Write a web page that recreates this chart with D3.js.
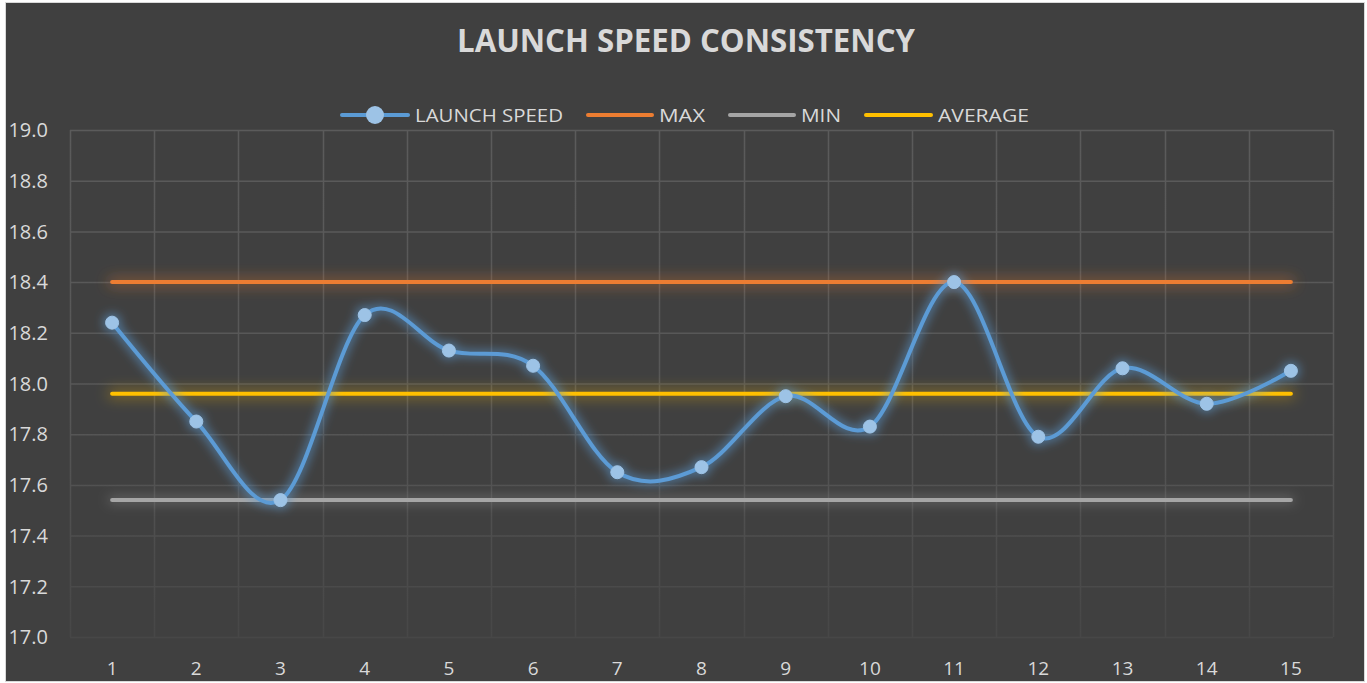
<!DOCTYPE html>
<html>
<head>
<meta charset="utf-8">
<script src="https://cdn.jsdelivr.net/npm/d3@7"></script>
<style>
  html, body { margin: 0; padding: 0; background: #ffffff; }
  svg { display: block; }
  text { font-family: "Open Sans", "Noto Sans", sans-serif; }
</style>
</head>
<body>
<div id="chart"></div>
<script>
// data
var categories = ["1", "2", "3", "4", "5", "6", "7", "8", "9", "10", "11", "12", "13", "14", "15"];
var launchSpeed = [18.24, 17.85, 17.54, 18.27, 18.13, 18.07, 17.65, 17.67, 17.95, 17.83, 18.40, 17.79, 18.06, 17.92, 18.05];
var maxValues = [18.40, 18.40, 18.40, 18.40, 18.40, 18.40, 18.40, 18.40, 18.40, 18.40, 18.40, 18.40, 18.40, 18.40, 18.40];
var minValues = [17.54, 17.54, 17.54, 17.54, 17.54, 17.54, 17.54, 17.54, 17.54, 17.54, 17.54, 17.54, 17.54, 17.54, 17.54];
var avgValues = [17.96, 17.96, 17.96, 17.96, 17.96, 17.96, 17.96, 17.96, 17.96, 17.96, 17.96, 17.96, 17.96, 17.96, 17.96];
var yTicks = [17.0, 17.2, 17.4, 17.6, 17.8, 18.0, 18.2, 18.4, 18.6, 18.8, 19.0];
var legendNames = ["LAUNCH SPEED", "MAX", "MIN", "AVERAGE"];

var width = 1367, height = 683;
var plot = { left: 70, right: 1333, top: 130, bottom: 637 };

var svg = d3.select("#chart").append("svg")
	.attr("width", width)
	.attr("height", height);

var defs = svg.append("defs");

// soft glow like the excel effect (user space so flat lines keep it)
function glow(id, color, dev, op) {
	var f = defs.append("filter").attr("id", id)
		.attr("filterUnits", "userSpaceOnUse")
		.attr("x", 0).attr("y", 0).attr("width", width).attr("height", height);
	f.append("feMorphology").attr("in", "SourceAlpha").attr("operator", "dilate").attr("radius", 2).attr("result", "fat");
	f.append("feGaussianBlur").attr("in", "fat").attr("stdDeviation", dev).attr("result", "blur");
	f.append("feFlood").attr("flood-color", color).attr("flood-opacity", op);
	f.append("feComposite").attr("in2", "blur").attr("operator", "in").attr("result", "glowc");
	var m = f.append("feMerge");
	m.append("feMergeNode").attr("in", "glowc");
	m.append("feMergeNode").attr("in", "SourceGraphic");
}
glow("glowBlue", "#5b9bd5", 5, 0.55);
glow("glowOrange", "#ed7d31", 7, 0.45);
glow("glowGray", "#a5a5a5", 6, 0.35);
glow("glowYellow", "#ffc000", 7, 0.42);

// grid fades out towards the bottom
var grad = defs.append("linearGradient").attr("id", "gridFade")
	.attr("gradientUnits", "userSpaceOnUse")
	.attr("x1", 0).attr("y1", plot.top).attr("x2", 0).attr("y2", plot.bottom);
grad.append("stop").attr("offset", "0%").attr("stop-color", "#5b5b5b");
grad.append("stop").attr("offset", "55%").attr("stop-color", "#575757");
grad.append("stop").attr("offset", "100%").attr("stop-color", "#474747");

// background + border
svg.append("rect")
	.attr("x", 5.5).attr("y", 2.5)
	.attr("width", 1359).attr("height", 679)
	.attr("fill", "#404040")
	.attr("stroke", "#d9d9d9")
	.attr("stroke-width", 1);

var x = d3.scaleBand()
	.domain(categories)
	.range([plot.left, plot.right]);

var y = d3.scaleLinear()
	.domain([17.0, 19.0])
	.range([plot.bottom, plot.top]);

function cx(i) { return x(categories[i]) + x.bandwidth() / 2; }

// horizontal grid
svg.append("g").selectAll("line")
	.data(yTicks)
	.enter().append("line")
	.attr("x1", plot.left).attr("x2", plot.right)
	.attr("y1", function(d) { return y(d) + 0.5; })
	.attr("y2", function(d) { return y(d) + 0.5; })
	.attr("stroke", "url(#gridFade)")
	.attr("stroke-width", 1.5);

// vertical grid at band edges
var edges = categories.map(function(c) { return x(c); }).concat([plot.right]);
svg.append("g").selectAll("line")
	.data(edges)
	.enter().append("line")
	.attr("x1", function(d) { return Math.round(d) + 0.5; })
	.attr("x2", function(d) { return Math.round(d) + 0.5; })
	.attr("y1", plot.top).attr("y2", plot.bottom)
	.attr("stroke", "url(#gridFade)")
	.attr("stroke-width", 1.5);

// y labels
svg.append("g").selectAll("text")
	.data(yTicks)
	.enter().append("text")
	.attr("x", 48)
	.attr("y", function(d) { return y(d); })
	.attr("dy", "0.36em")
	.attr("text-anchor", "end")
	.attr("font-size", 20)
	.attr("fill", "#d9d9d9")
	.text(function(d) { return d.toFixed(1); });

// x labels
svg.append("g").selectAll("text")
	.data(categories)
	.enter().append("text")
	.attr("x", function(d, i) { return cx(i); })
	.attr("y", 675)
	.attr("text-anchor", "middle")
	.attr("font-size", 19)
	.attr("fill", "#d9d9d9")
	.text(function(d) { return d; });

// reference lines
function flatLine(vals, color, filt) {
	var line = d3.line()
		.x(function(d, i) { return cx(i); })
		.y(function(d) { return y(d); });
	svg.append("path")
		.datum(vals)
		.attr("d", line)
		.attr("fill", "none")
		.attr("stroke", color)
		.attr("stroke-width", 4)
		.attr("stroke-linecap", "round")
		.attr("filter", "url(#" + filt + ")");
}
flatLine(minValues, "#a5a5a5", "glowGray");
flatLine(maxValues, "#ed7d31", "glowOrange");
flatLine(avgValues, "#ffc000", "glowYellow");

// launch speed, smoothed
var smooth = d3.line()
	.x(function(d, i) { return cx(i); })
	.y(function(d) { return y(d); })
	.curve(d3.curveCatmullRom.alpha(0));

var speedG = svg.append("g").attr("filter", "url(#glowBlue)");
speedG.append("path")
	.datum(launchSpeed)
	.attr("d", smooth)
	.attr("fill", "none")
	.attr("stroke", "#5b9bd5")
	.attr("stroke-width", 4)
	.attr("stroke-linecap", "round");

speedG.selectAll("circle")
	.data(launchSpeed)
	.enter().append("circle")
	.attr("cx", function(d, i) { return cx(i); })
	.attr("cy", function(d) { return y(d); })
	.attr("r", 6.5)
	.attr("fill", "#9dc3e6")
	.attr("stroke", "#9dc3e6")
	.attr("stroke-width", 1);

// title
svg.append("text")
	.attr("x", 686)
	.attr("y", 52)
	.attr("text-anchor", "middle")
	.attr("font-size", 32)
	.attr("font-weight", "bold")
	.attr("fill", "#d9d9d9")
	.attr("textLength", 458)
	.attr("lengthAdjust", "spacingAndGlyphs")
	.text("LAUNCH SPEED CONSISTENCY");

// legend
var legendItems = [
	{ name: legendNames[0], color: "#5b9bd5", x1: 342, x2: 408, tx: 415, tw: 148, marker: true },
	{ name: legendNames[1], color: "#ed7d31", x1: 588, x2: 652, tx: 659, tw: 46 },
	{ name: legendNames[2], color: "#a5a5a5", x1: 730, x2: 794, tx: 801, tw: 40 },
	{ name: legendNames[3], color: "#ffc000", x1: 866, x2: 931, tx: 938, tw: 91 }
];
var legend = svg.append("g");
legendItems.forEach(function(d) {
	legend.append("line")
		.attr("x1", d.x1).attr("x2", d.x2)
		.attr("y1", 115).attr("y2", 115)
		.attr("stroke", d.color)
		.attr("stroke-width", 4)
		.attr("stroke-linecap", "round");
	if (d.marker) {
		legend.append("circle")
			.attr("cx", (d.x1 + d.x2) / 2).attr("cy", 115)
			.attr("r", 9)
			.attr("fill", "#9dc3e6");
	}
	legend.append("text")
		.attr("x", d.tx)
		.attr("y", 115)
		.attr("dy", "0.36em")
		.attr("font-size", 19)
		.attr("fill", "#d9d9d9")
		.attr("textLength", d.tw)
		.attr("lengthAdjust", "spacingAndGlyphs")
		.text(d.name);
});
</script>
</body>
</html>
